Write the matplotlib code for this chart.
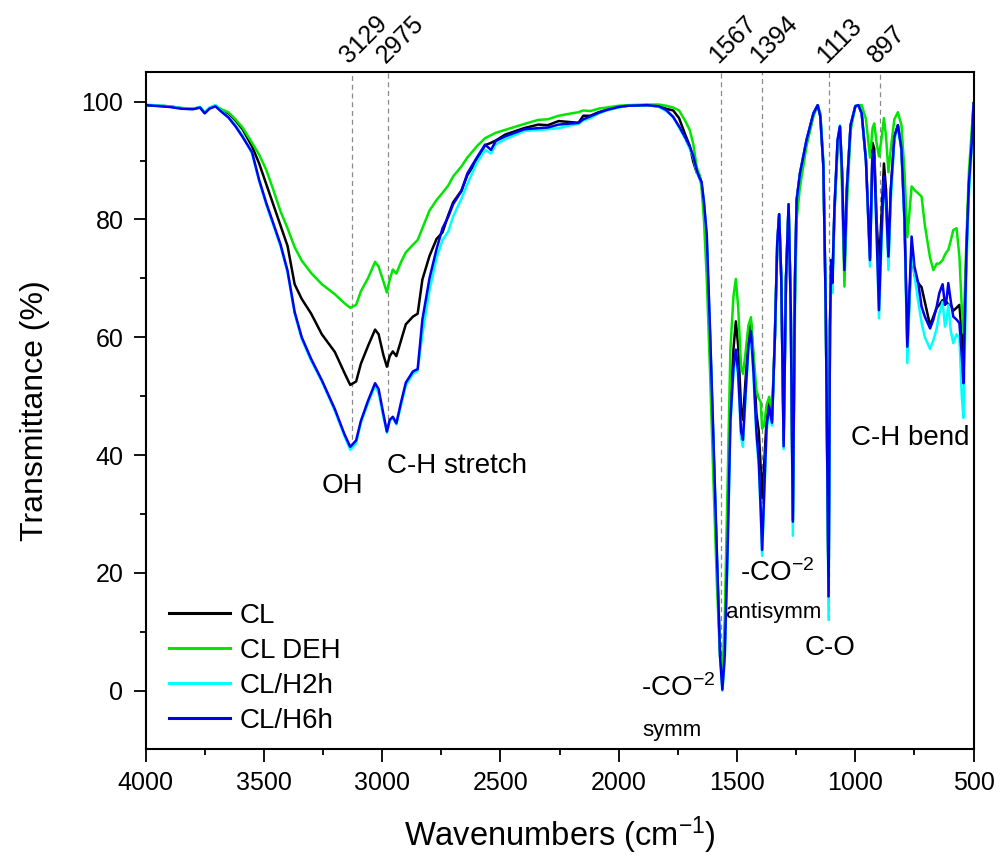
import numpy as np
import matplotlib
matplotlib.use("Agg")
import matplotlib.pyplot as plt
from matplotlib.ticker import MultipleLocator

plt.rcParams['font.family'] = ['Liberation Sans', 'DejaVu Sans']
plt.rcParams['mathtext.fontset'] = 'custom'
plt.rcParams['mathtext.rm'] = 'Liberation Sans'
plt.rcParams['mathtext.it'] = 'Liberation Sans:italic'
plt.rcParams['mathtext.bf'] = 'Liberation Sans:bold'

# ---------------- data ----------------
wavenumber = [
    4000, 3900, 3850, 3800, 3770, 3750, 3730, 3705, 3680, 3650, 3620, 3590, 3550, 3520, 3490,
    3460, 3430, 3400, 3370, 3340, 3300, 3255, 3200, 3160, 3135, 3110, 3090, 3060, 3030, 3015,
    2995, 2980, 2968, 2955, 2940, 2920, 2900, 2870, 2850, 2830, 2800, 2770, 2745, 2720, 2700,
    2665, 2640, 2600, 2565, 2540, 2520, 2480, 2400, 2340, 2300, 2254, 2200, 2170, 2150, 2120,
    2085, 2050, 2000, 1960, 1880, 1830, 1800, 1770, 1745, 1720, 1700, 1685, 1670, 1658, 1650,
    1640, 1628, 1614, 1600, 1585, 1572, 1562, 1552, 1540, 1528, 1515, 1505, 1495, 1483, 1475,
    1465, 1452, 1441, 1430, 1418, 1408, 1400, 1394, 1386, 1375, 1364, 1352, 1340, 1330, 1322,
    1313, 1303, 1293, 1282, 1273, 1264, 1255, 1248, 1234, 1206, 1177, 1159, 1148, 1135, 1125,
    1113, 1107, 1102, 1097, 1088, 1075, 1065, 1056, 1046, 1036, 1020, 1000, 987, 973, 955,
    938, 927, 920, 910, 900, 890, 879, 870, 860, 850, 835, 820, 805, 792, 780,
    762, 750, 734, 720, 706, 684, 670, 656, 645, 631, 621, 614, 607, 596, 586,
    572, 560, 550, 543, 530, 520, 508, 500,
]

cl = [
    99.4, 99.2, 98.9, 98.8, 99.0, 98.1, 98.9, 99.3, 98.6, 98.0, 96.8, 95.3, 92.4, 89.5, 86.0,
    82.5, 79.0, 75.5, 69.0, 66.5, 64.0, 60.5, 57.5, 54.0, 51.9, 52.5, 55.5, 58.5, 61.3, 60.5,
    57.0, 55.0, 56.8, 57.6, 56.8, 59.5, 62.2, 63.5, 64.0, 69.8, 73.8, 76.7, 77.8, 80.8, 82.9,
    84.9, 87.5, 90.0, 92.6, 93.0, 93.4, 94.4, 95.5, 96.1, 96.0, 96.7, 96.5, 96.4, 97.6, 97.6,
    98.2, 98.6, 99.1, 99.3, 99.4, 99.2, 98.8, 98.5, 97.2, 94.5, 92.5, 89.8, 87.9, 87.4, 86.0,
    82.5, 75.0, 60.0, 42.0, 22.0, 7.0, 1.0, 8.0, 28.0, 48.0, 58.0, 62.7, 58.5, 48.0, 46.0,
    52.0, 60.0, 62.4, 56.0, 47.0, 44.0, 38.0, 32.7, 38.0, 46.0, 49.5, 46.0, 60.0, 76.0, 80.9,
    70.0, 42.5, 70.0, 82.5, 65.0, 29.0, 70.0, 83.3, 87.8, 93.5, 98.0, 99.4, 97.5, 89.0, 65.0,
    16.0, 62.0, 73.1, 69.5, 82.0, 93.0, 95.8, 88.0, 71.5, 85.0, 96.0, 99.2, 99.4, 98.0, 90.0,
    73.5, 93.0, 92.0, 80.0, 72.0, 80.0, 89.5, 85.0, 73.7, 85.0, 94.0, 96.0, 92.0, 80.0, 58.4,
    75.0, 70.5, 69.2, 68.5, 66.0, 62.0, 63.5, 65.0, 65.5, 66.3, 65.5, 66.0, 65.5, 65.5, 64.5,
    65.0, 65.5, 60.5, 54.5, 75.0, 86.0, 93.0, 99.7,
]

cl_deh = [
    99.4, 99.2, 98.9, 98.8, 99.0, 98.2, 98.9, 99.3, 98.7, 98.2, 97.0, 95.6, 93.0, 91.0, 88.4,
    85.0, 81.4, 78.5, 75.3, 73.0, 70.9, 69.0, 67.3, 65.8, 65.0, 65.5, 67.8, 70.0, 72.8, 72.0,
    69.5, 67.6, 69.8, 71.5, 70.8, 72.8, 74.4, 75.7, 76.5, 78.5, 81.5, 83.3, 84.5, 85.8, 87.3,
    89.0, 90.5, 92.4, 93.8, 94.3, 94.7, 95.2, 96.2, 96.9, 97.0, 97.6, 98.0, 98.2, 98.5, 98.4,
    98.8, 99.0, 99.3, 99.4, 99.5, 99.5, 99.3, 99.0, 98.5, 96.8, 95.2, 92.8, 88.8, 87.5, 85.4,
    80.0, 70.0, 54.0, 36.0, 18.0, 6.0, 2.5, 12.0, 35.0, 58.0, 67.0, 69.9, 65.0, 55.0, 53.8,
    57.0, 62.0, 63.4, 57.0, 51.0, 49.6, 49.0, 44.5, 45.0, 48.5, 49.9, 47.0, 60.0, 75.0, 80.0,
    70.0, 44.0, 70.0, 82.0, 66.0, 30.0, 65.0, 80.0, 85.5, 92.5, 97.5, 99.4, 98.0, 90.0, 65.0,
    16.0, 62.0, 72.0, 68.0, 81.0, 92.0, 95.0, 85.0, 68.6, 82.0, 95.0, 99.3, 99.4, 99.4, 97.0,
    90.5, 95.5, 96.3, 93.0, 90.7, 93.5, 97.2, 94.0, 88.0, 92.0, 97.0, 98.2, 96.0, 88.0, 77.0,
    85.6, 85.0, 84.4, 83.9, 79.0, 73.5, 71.4, 72.5, 72.5, 73.1, 74.0, 74.5, 74.8, 76.5, 78.2,
    78.5, 73.7, 65.0, 60.7, 77.0, 88.0, 95.0, 99.8,
]

cl_h2h = [
    99.5, 99.2, 98.9, 98.8, 99.1, 98.2, 99.0, 99.4, 98.4, 97.4, 96.0, 94.2, 91.2, 86.5, 82.5,
    79.0, 75.5, 71.0, 64.0, 59.7, 56.0, 52.5, 47.5, 43.3, 40.9, 42.0, 45.5, 48.8, 51.8, 50.5,
    46.5, 43.8, 45.8, 46.4, 45.2, 48.5, 51.8, 53.8, 54.3, 60.5, 68.0, 73.5, 76.5, 78.0, 80.5,
    83.5, 86.0, 89.6, 91.8, 91.2, 92.7, 93.6, 95.0, 95.2, 95.3, 95.5, 96.0, 96.2, 96.8, 97.2,
    98.0, 98.5, 99.0, 99.3, 99.4, 99.1, 98.4, 97.4, 95.6, 93.8, 92.0, 90.6, 88.0, 86.8, 86.2,
    83.0, 77.0, 61.0, 43.0, 23.0, 6.0, 0.0, 5.0, 22.0, 45.0, 54.0, 57.3, 53.0, 43.0, 41.4,
    49.0, 57.5, 60.0, 53.0, 43.0, 38.0, 30.0, 22.9, 32.0, 44.0, 47.5, 45.0, 60.0, 76.0, 80.9,
    70.0, 41.0, 70.0, 82.6, 65.0, 26.3, 70.0, 83.3, 87.8, 93.5, 98.0, 99.4, 97.5, 89.0, 65.0,
    12.0, 62.0, 73.0, 67.5, 82.0, 93.5, 96.0, 88.0, 71.5, 85.0, 96.0, 99.2, 99.4, 98.0, 90.0,
    72.0, 91.5, 90.0, 77.0, 63.2, 75.0, 86.5, 82.0, 71.4, 83.0, 93.5, 95.8, 91.5, 79.0, 55.6,
    75.5, 70.5, 66.0, 62.5, 60.0, 58.0, 59.5, 61.5, 64.0, 66.0, 61.8, 63.0, 65.5, 61.0, 59.0,
    60.5, 60.0, 50.0, 46.3, 72.0, 84.0, 92.0, 99.5,
]

cl_h6h = [
    99.4, 99.1, 98.8, 98.7, 99.0, 98.0, 98.8, 99.2, 98.3, 97.3, 95.8, 94.0, 91.4, 86.7, 82.8,
    79.3, 75.8, 71.3, 64.3, 60.0, 56.3, 52.7, 47.8, 43.6, 41.4, 42.5, 45.8, 49.2, 52.2, 51.2,
    47.0, 44.0, 46.0, 46.5, 45.4, 49.0, 52.3, 54.2, 54.6, 63.0, 70.0, 75.0, 78.5, 80.5, 82.6,
    84.8, 87.8, 90.5, 92.7, 91.8, 93.3, 94.1, 95.3, 95.5, 95.6, 96.1, 96.3, 96.4, 97.0, 97.5,
    98.1, 98.6, 99.1, 99.3, 99.4, 99.2, 98.6, 97.4, 95.8, 94.0, 92.4, 90.8, 88.3, 87.0, 86.4,
    83.0, 77.5, 61.0, 43.0, 23.0, 6.0, 0.2, 6.0, 24.0, 46.0, 55.0, 57.9, 54.0, 44.0, 42.6,
    50.0, 58.5, 61.0, 54.0, 44.0, 39.0, 31.0, 23.9, 33.0, 45.0, 48.2, 45.5, 60.0, 76.0, 80.9,
    70.0, 41.5, 70.0, 82.6, 65.0, 28.7, 70.0, 83.3, 87.8, 93.5, 98.0, 99.4, 97.5, 89.0, 65.0,
    16.0, 62.0, 73.1, 69.2, 82.0, 93.5, 95.8, 88.0, 71.4, 85.0, 96.0, 99.2, 99.4, 98.0, 90.0,
    73.1, 91.8, 90.5, 78.0, 64.6, 77.0, 87.3, 83.0, 73.7, 85.0, 94.0, 96.0, 92.0, 80.0, 58.4,
    77.1, 72.0, 69.2, 65.2, 63.5, 61.5, 63.0, 65.2, 67.5, 69.0, 65.5, 66.5, 69.2, 66.0, 63.5,
    63.0, 62.4, 57.0, 52.2, 75.0, 86.0, 93.0, 99.7,
]

series_names = ["CL", "CL DEH", "CL/H2h", "CL/H6h"]
series_colors = ["#000000", "#00e600", "#00ffff", "#0000f0"]

peak_positions = [3129, 2975, 1567, 1394, 1113, 897]
peak_labels = ["3129", "2975", "1567", "1394", "1113", "897"]

# ---------------- figure ----------------
fig = plt.figure(figsize=(10.0, 8.59), dpi=100)
ax = fig.add_axes([0.1456, 0.128, 0.828, 0.788])

all_series = [cl, cl_deh, cl_h2h, cl_h6h]
for vals, name, col in zip(all_series, series_names, series_colors):
    ax.plot(wavenumber, vals, color=col, lw=1.8, label=name, solid_joinstyle='round')

ax.set_xlim(4000, 500)
ax.set_ylim(-9.9, 105)

ax.xaxis.set_major_locator(MultipleLocator(500))
ax.xaxis.set_minor_locator(MultipleLocator(250))
ax.yaxis.set_major_locator(MultipleLocator(20))
ax.yaxis.set_minor_locator(MultipleLocator(10))
ax.tick_params(axis='both', which='major', direction='out', length=9, width=1.3,
               labelsize=18, pad=7, top=False, right=False)
ax.tick_params(axis='both', which='minor', direction='out', length=4.5, width=1.3,
               top=False, right=False)
for sp in ax.spines.values():
    sp.set_linewidth(1.5)

ax.set_xlabel("Wavenumbers (cm$^{\\mathregular{-1}}$)", fontsize=23.5, labelpad=14)
ax.set_ylabel("Transmittance (%)", fontsize=23, labelpad=23)

# dashed marker lines + rotated labels
wn_arr = np.array(wavenumber)[::-1]
for pos, lab in zip(peak_positions, peak_labels):
    low = min(np.interp(pos, wn_arr, np.array(s)[::-1]) for s in all_series)
    ax.plot([pos, pos], [low, 105], color='#8a8a8a', lw=0.9, ls=(0, (4, 3)), zorder=0.5)
    ax.annotate(lab, xy=(pos, 1.0), xycoords=('data', 'axes fraction'),
                xytext=(-2, 6), textcoords='offset points',
                rotation=45, rotation_mode='anchor', ha='left', va='baseline',
                fontsize=18, annotation_clip=False)

# band annotations
ax.text(3170, 34.8, "OH", fontsize=20, ha='center', va='center')
ax.text(2684, 38.2, "C-H stretch", fontsize=20, ha='center', va='center')
ax.text(769, 42.9, "C-H bend", fontsize=20, ha='center', va='center')
ax.text(1107, 7.2, "C-O", fontsize=20, ha='center', va='center')
ax.text(1330, 20.0, "-CO$^{\\mathregular{-2}}$", fontsize=20, ha='center', va='center')
ax.text(1344, 13.3, "antisymm", fontsize=16, ha='center', va='center')
ax.text(1749, 0.5, "-CO$^{\\mathregular{-2}}$", fontsize=20, ha='center', va='center')
ax.text(1775, -6.7, "symm", fontsize=16, ha='center', va='center')

leg = ax.legend(loc='lower left', bbox_to_anchor=(0.028, 0.022), frameon=False,
                fontsize=20, handlelength=2.2, handletextpad=0.35, labelspacing=0.33,
                borderaxespad=0, borderpad=0)
for h in leg.get_lines():
    h.set_linewidth(2.2)

fig.savefig("out.png", dpi=100)
